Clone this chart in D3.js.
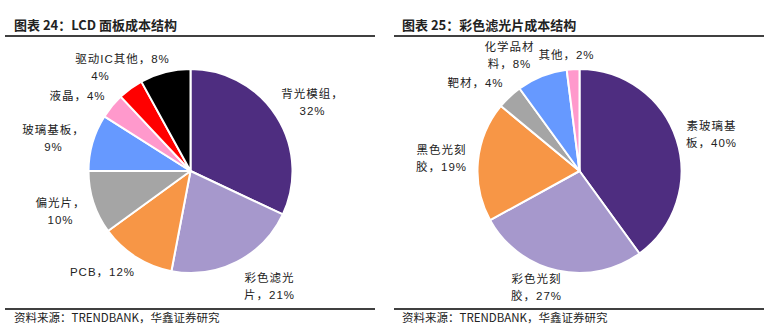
<!DOCTYPE html>
<html>
<head>
<meta charset="utf-8">
<script src="https://cdn.jsdelivr.net/npm/d3@7/dist/d3.min.js"></script>
<style>
  html, body { margin: 0; padding: 0; background: #fff; }
  svg { display: block; }
  text { font-family: "Liberation Sans", Arial, "Noto Sans CJK SC", sans-serif; fill: #222; }
</style>
</head>
<body>
<svg id="chart" width="770" height="331"></svg>
<script>
// ---- LCD panel cost structure ----
const lcdNames  = ["背光模组", "彩色滤光片", "PCB", "偏光片", "玻璃基板", "液晶", "", "驱动IC其他"];
const lcdValues = [32, 21, 12, 10, 9, 4, 4, 8];
const lcdLabels = [["背光模组，", "32%"], ["彩色滤光", "片，21%"], ["PCB，12%"], ["偏光片，", "10%"],
                   ["玻璃基板，", "9%"], ["液晶，4%"], ["4%"], ["驱动IC其他，8%"]];
const lcdColors = ["#4E2D80", "#A698CC", "#F79646", "#A5A5A5", "#6699FF", "#FF99CC", "#FF0000", "#000000"];

// ---- colour filter cost structure ----
const cfNames  = ["素玻璃基板", "彩色光刻胶", "黑色光刻胶", "靶材", "化学品材料", "其他"];
const cfValues = [40, 27, 19, 4, 8, 2];
const cfLabels = [["素玻璃基", "板，40%"], ["彩色光刻", "胶，27%"], ["黑色光刻", "胶，19%"], ["靶材，4%"],
                  ["化学品材", "料，8%"], ["其他，2%"]];
const cfColors = ["#4E2D80", "#A698CC", "#F79646", "#A5A5A5", "#6699FF", "#FF99CC"];

const titles = ["图表 24：LCD 面板成本结构", "图表 25：彩色滤光片成本结构"];
const sourceText = "资料来源：TRENDBANK，华鑫证券研究";

// label anchor offsets from each pie's centre (first line centre)
const lcdLabelPos = [[122, -77], [79, 107], [-88, 101], [-130, 32], [-137, -41], [-113, -75], [-90, -95], [-68, -112]];
const cfLabelPos  = [[132, -45], [-43, 108], [-138, -21], [-104, -88], [-70, -124], [-13, -116]];

const svg = d3.select("#chart");

function panel(opt) {
  const g = svg.append("g");
  g.append("text")
    .attr("x", opt.titleX).attr("y", 30)
    .attr("font-size", 13)
    .attr("font-weight", "bold")
    .style("font-family", "\"Noto Sans CJK SC\", sans-serif")
    .attr("fill", "#111")
    .text(opt.title);
  g.append("line")
    .attr("x1", opt.lineX1).attr("x2", opt.lineX2)
    .attr("y1", 36).attr("y2", 36)
    .attr("stroke", "#000").attr("stroke-width", 1.3);
  g.append("line")
    .attr("x1", opt.lineX1).attr("x2", opt.lineX2)
    .attr("y1", 309).attr("y2", 309)
    .attr("stroke", "#000").attr("stroke-width", 1.3);
  g.append("text")
    .attr("x", opt.titleX).attr("y", 322)
    .attr("font-size", 11.5)
    .style("font-family", "\"Noto Sans CJK SC\", sans-serif")
    .attr("fill", "#222")
    .text(sourceText);

  const pie = d3.pie().sort(null).value(d => d.value);
  const arcs = pie(opt.names.map((n, i) => ({ name: n, value: opt.values[i], i })));
  const arc = d3.arc().innerRadius(0).outerRadius(opt.r);

  const pg = g.append("g").attr("transform", `translate(${opt.cx},${opt.cy})`);
  pg.selectAll("path").data(arcs).join("path")
    .attr("d", arc)
    .attr("fill", d => opt.colors[d.data.i])
    .attr("stroke", "#fff")
    .attr("stroke-width", 2)
    .attr("stroke-linejoin", "round");

  const lg = pg.selectAll("g.lbl").data(arcs).join("g").attr("class", "lbl")
    .attr("transform", d => `translate(${opt.labelPos[d.data.i][0]},${opt.labelPos[d.data.i][1]})`);
  lg.each(function (d) {
    const lines = opt.labels[d.data.i];
    d3.select(this).selectAll("text").data(lines).join("text")
      .attr("x", 0).attr("y", (l, k) => k * 17)
      .attr("dy", "0.35em")
      .attr("text-anchor", "middle")
      .attr("font-size", 11.5)
      .attr("letter-spacing", 1)
      .text(l => l);
  });
}

panel({ title: titles[0], titleX: 14, lineX1: 5, lineX2: 375,
        cx: 190.5, cy: 171, r: 102,
        names: lcdNames, values: lcdValues, labels: lcdLabels, colors: lcdColors, labelPos: lcdLabelPos });
panel({ title: titles[1], titleX: 402, lineX1: 394, lineX2: 764,
        cx: 579.5, cy: 171, r: 102,
        names: cfNames, values: cfValues, labels: cfLabels, colors: cfColors, labelPos: cfLabelPos });
</script>
</body>
</html>
